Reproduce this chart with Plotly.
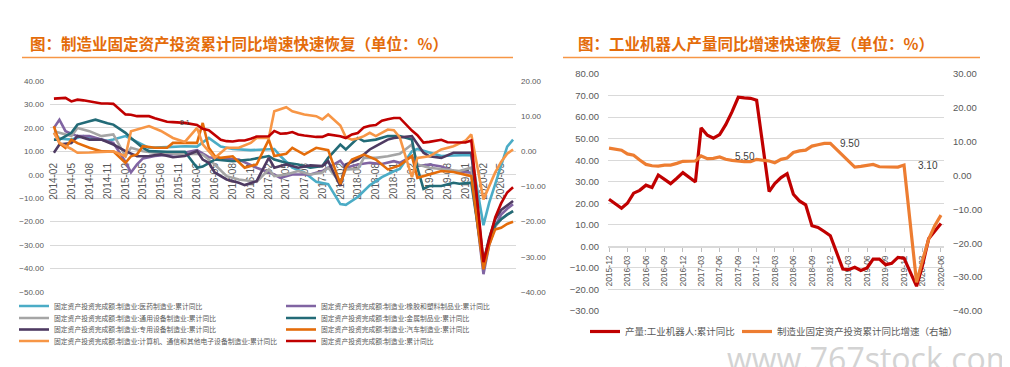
import plotly.graph_objects as go

W, H = 1010, 367


def px_x(p):
    return p / W


def px_y(p):
    return 1 - p / H


# ---------------- data : left chart (monthly cumulative YoY, %) ----------------
pharma_m = ["2014-02", "2014-03", "2014-05", "2014-07", "2014-09", "2014-11", "2014-12", "2015-02", "2015-04",
            "2015-06", "2015-09", "2015-12", "2016-02", "2016-04", "2016-06", "2016-08", "2016-11", "2017-02",
            "2017-03", "2017-04", "2017-06", "2017-08", "2017-10", "2017-12", "2018-02", "2018-03", "2018-05",
            "2018-07", "2018-09", "2018-11", "2018-12", "2019-02", "2019-03", "2019-05", "2019-07", "2019-09",
            "2019-12", "2020-02", "2020-03", "2020-04", "2020-05", "2020-06", "2020-07"]
pharma_v = [18.0, 15.5, 15.0, 16.5, 15.5, 14.5, 15.0, 16.5, 14.0, 11.5, 11.8, 12.2, 12.0, 15.7, 12.0, 11.0, 10.5,
            10.8, 11.0, 8.0, 3.0, 1.0, -3.0, -4.0, -12.5, -12.8, -9.5, -4.5, -1.0, 1.5, 2.5, 10.0, 11.0, 9.5, 8.0,
            8.2, 8.5, -21.5, -12.0, -4.0, 4.0, 12.0, 15.0]

rubber_m = ["2014-02", "2014-03", "2014-04", "2014-06", "2014-08", "2014-10", "2014-12", "2015-02", "2015-03",
            "2015-04", "2015-05", "2015-07", "2015-09", "2015-11", "2016-02", "2016-04", "2016-06", "2016-09",
            "2016-12", "2017-02", "2017-03", "2017-04", "2017-06", "2017-09", "2017-11", "2017-12", "2018-02",
            "2018-03", "2018-05", "2018-07", "2018-09", "2018-11", "2018-12", "2019-02", "2019-03", "2019-05",
            "2019-07", "2019-09", "2019-12", "2020-02", "2020-03", "2020-04", "2020-05", "2020-06", "2020-07"]
rubber_v = [20.0, 23.5, 18.6, 16.5, 16.5, 15.0, 13.6, 5.5, 1.0, 4.4, 7.0, 8.0, 8.5, 9.0, 10.5, 7.5, 6.8, 6.5, 3.0,
            1.0, 0.1, -1.3, 0.1, 0.1, 1.6, 3.0, 6.0, 3.0, 4.4, 5.1, 4.6, 5.8, 5.1, 7.9, 3.7, 4.4, 3.5, 1.6, 0.9,
            -42.4, -30.0, -22.0, -17.0, -14.5, -12.6]

general_m = ["2014-02", "2014-03", "2014-05", "2014-06", "2014-08", "2014-10", "2014-12", "2015-02", "2015-03",
             "2015-05", "2015-07", "2015-09", "2015-11", "2016-02", "2016-03", "2016-05", "2016-07", "2016-09",
             "2016-11", "2016-12", "2017-02", "2017-03", "2017-05", "2017-07", "2017-09", "2017-11", "2017-12",
             "2018-02", "2018-03", "2018-05", "2018-06", "2018-08", "2018-10", "2018-12", "2019-02", "2019-03",
             "2019-05", "2019-08", "2019-10", "2019-12", "2020-02", "2020-03", "2020-04", "2020-05", "2020-06",
             "2020-07"]
general_v = [18.6, 17.9, 16.5, 20.0, 18.6, 16.5, 17.2, 7.9, 11.5, 10.0, 9.4, 9.4, 8.7, 9.0, 8.6, 4.4, -0.6, -2.0,
             -2.7, -3.0, 2.3, -0.6, 0.1, 1.6, 0.1, 1.0, 3.0, -3.4, 2.3, 2.5, 7.2, 7.2, 7.9, 9.0, 12.9, 4.4, 3.0, 2.3,
             1.6, 3.0, -38.0, -28.0, -22.0, -19.0, -17.0, -15.5]

metal_m = ["2014-02", "2014-03", "2014-05", "2014-06", "2014-08", "2014-09", "2014-11", "2014-12", "2015-02",
           "2015-03", "2015-05", "2015-06", "2015-09", "2015-12", "2016-02", "2016-03", "2016-04", "2016-05",
           "2016-08", "2016-11", "2017-02", "2017-03", "2017-05", "2017-07", "2017-09", "2017-11", "2017-12",
           "2018-02", "2018-03", "2018-05", "2018-06", "2018-08", "2018-10", "2018-12", "2019-02", "2019-03",
           "2019-04", "2019-05", "2019-07", "2019-09", "2019-10", "2019-12", "2020-02", "2020-03", "2020-04",
           "2020-05", "2020-06", "2020-07"]
metal_v = [15.0, 15.0, 17.9, 21.4, 22.8, 23.5, 22.0, 21.4, 17.9, 15.7, 11.5, 10.1, 9.8, 9.8, 3.0, 3.5, 5.0, 6.5,
           5.8, 6.5, 8.0, 6.5, 5.1, 4.4, 3.0, 3.7, 7.2, 12.9, 10.8, 15.7, 14.3, 15.0, 16.5, 16.5, 15.0, 3.0, -6.0,
           -4.8, -4.8, -3.4, -3.8, -3.4, -38.0, -28.0, -21.5, -19.0, -17.0, -15.5]

special_m = ["2014-02", "2014-03", "2014-05", "2014-06", "2014-08", "2014-10", "2014-12", "2015-02", "2015-04",
             "2015-06", "2015-08", "2015-10", "2015-12", "2016-02", "2016-03", "2016-04", "2016-05", "2016-07",
             "2016-09", "2016-10", "2016-12", "2017-02", "2017-03", "2017-05", "2017-07", "2017-09", "2017-11",
             "2017-12", "2018-02", "2018-03", "2018-05", "2018-07", "2018-08", "2018-10", "2018-11", "2019-02",
             "2019-04", "2019-05", "2019-07", "2019-09", "2019-12", "2020-02", "2020-03", "2020-04", "2020-05",
             "2020-06", "2020-07"]
special_v = [9.4, 12.9, 13.5, 16.5, 15.0, 15.0, 12.9, 10.1, 7.9, 8.0, 8.7, 7.5, 8.0, 10.1, 6.5, 5.1, 1.0, -2.0,
             -3.4, -4.4, -2.7, 7.2, 3.0, 4.4, 3.0, 4.0, 3.7, 5.8, -4.8, 4.4, 6.5, 10.8, 12.2, 15.0, 15.7, 16.5, 9.4,
             7.9, 7.2, 9.4, 9.4, -37.4, -27.0, -19.0, -15.0, -13.0, -11.2]

auto_m = ["2014-02", "2014-03", "2014-04", "2014-05", "2014-06", "2014-08", "2014-10", "2014-12", "2015-02",
          "2015-03", "2015-04", "2015-05", "2015-07", "2015-09", "2015-10", "2015-12", "2016-02", "2016-03",
          "2016-04", "2016-05", "2016-06", "2016-08", "2016-10", "2016-11", "2016-12", "2017-02", "2017-03",
          "2017-05", "2017-06", "2017-08", "2017-10", "2017-12", "2018-02", "2018-03", "2018-04", "2018-06",
          "2018-08", "2018-10", "2018-12", "2019-02", "2019-03", "2019-05", "2019-07", "2019-09", "2019-11",
          "2019-12", "2020-02", "2020-03", "2020-04", "2020-05", "2020-06", "2020-07"]
auto_v = [20.7, 13.5, 11.5, 15.0, 13.5, 11.5, 10.0, 10.0, 5.1, 7.9, 8.7, 12.2, 11.5, 11.5, 13.6, 13.6, 13.6, 22.1,
          11.5, 8.0, 7.2, 7.9, 3.0, 3.7, 4.4, 15.0, 8.0, 9.0, 11.5, 8.6, 11.5, 10.5, -4.0, 3.0, 6.5, 8.6, 6.5, 2.3,
          4.0, 8.0, -1.3, 0.1, 1.6, 1.2, 0.1, -0.6, -40.3, -30.0, -23.3, -22.6, -21.0, -20.0]

computer_m = ["2014-02", "2014-03", "2014-05", "2014-06", "2014-08", "2014-10", "2014-12", "2015-02", "2015-03",
              "2015-06", "2015-08", "2015-10", "2015-12", "2016-02", "2016-03", "2016-05", "2016-07", "2016-09",
              "2016-11", "2016-12", "2017-02", "2017-03", "2017-05", "2017-06", "2017-08", "2017-10", "2017-11",
              "2017-12", "2018-02", "2018-03", "2018-04", "2018-05", "2018-06", "2018-07", "2018-08", "2018-10",
              "2018-11", "2018-12", "2019-02", "2019-03", "2019-05", "2019-07", "2019-09", "2019-11", "2019-12",
              "2020-02", "2020-03", "2020-04", "2020-05", "2020-06", "2020-07"]
computer_v = [17.9, 13.6, 11.0, 9.4, 9.5, 9.8, 10.0, 7.9, 18.6, 20.8, 18.7, 15.7, 14.0, 20.0, 13.0, 7.2, 11.5,
              11.5, 13.6, 15.7, 15.7, 27.1, 28.8, 27.1, 25.7, 25.0, 23.6, 25.7, 21.0, 16.0, 15.0, 15.5, 16.5, 17.9,
              16.5, 19.3, 19.0, 16.0, -1.0, 7.2, 7.9, 10.8, 12.2, 14.5, 17.2, -10.5, -5.0, 1.0, 5.5, 9.0, 10.8]

# manufacturing FAI cumulative YoY (right axis on the left chart, right axis on the right chart)
mfg_m = [f"{y}-{m:02d}" for y in range(2014, 2020) for m in range(2, 13)] + \
        ["2020-02", "2020-03", "2020-04", "2020-05", "2020-06", "2020-07"]
mfg_v = [15.0, 15.1, 15.2, 14.2, 14.7, 14.5, 14.2, 13.9, 13.6, 13.6, 13.5,
         10.5, 10.4, 10.0, 10.0, 10.0, 9.4, 9.0, 8.4, 8.3, 8.3, 8.1,
         7.5, 6.4, 6.0, 4.6, 3.3, 2.9, 2.8, 3.1, 3.1, 3.6, 4.2,
         4.3, 5.8, 5.0, 5.1, 5.5, 4.8, 4.5, 4.2, 4.1, 4.1, 4.8,
         4.3, 3.8, 4.8, 5.2, 6.8, 7.3, 7.5, 8.7, 9.1, 9.5, 9.5,
         5.9, 4.6, 2.5, 2.7, 3.0, 3.3, 2.6, 2.5, 2.6, 2.5, 3.1,
         -31.5, -25.2, -18.8, -14.8, -11.7, -10.2]

# ---------------- data : right chart ----------------
robot_m = ["2015-12", "2016-02", "2016-03", "2016-04", "2016-05", "2016-06", "2016-07", "2016-08", "2016-09",
           "2016-10", "2016-11", "2016-12", "2017-02", "2017-03", "2017-04", "2017-05", "2017-06", "2017-07",
           "2017-08", "2017-09", "2017-10", "2017-11", "2017-12", "2018-02", "2018-03", "2018-04", "2018-05",
           "2018-06", "2018-07", "2018-08", "2018-09", "2018-10", "2018-11", "2018-12", "2019-02", "2019-03",
           "2019-04", "2019-05", "2019-06", "2019-07", "2019-08", "2019-09", "2019-10", "2019-11", "2019-12",
           "2020-02", "2020-03", "2020-04", "2020-05", "2020-06"]
robot_v = [21.9, 17.7, 20.0, 24.7, 26.0, 28.4, 27.3, 33.1, 31.1, 29.1, 31.6, 34.2, 29.9, 55.0, 51.6, 50.2, 51.9,
           56.5, 62.4, 69.2, 68.9, 68.7, 67.8, 25.4, 29.1, 31.9, 33.7, 24.2, 21.1, 19.3, 9.6, 8.8, 6.9, 4.9, -10.5,
           -10.8, -9.7, -11.2, -10.0, -5.9, -5.9, -8.5, -7.9, -5.1, -5.5, -18.5, -9.0, 3.5, 7.0, 10.6]

right_start, right_end = "2015-12", "2020-06"
labelled_months = ["2017-06", "2018-12", "2019-12"]

left_names = [
    "固定资产投资完成额:制造业:医药制造业:累计同比",
    "固定资产投资完成额:制造业:橡胶和塑料制品业:累计同比",
    "固定资产投资完成额:制造业:通用设备制造业:累计同比",
    "固定资产投资完成额:制造业:金属制品业:累计同比",
    "固定资产投资完成额:制造业:专用设备制造业:累计同比",
    "固定资产投资完成额:制造业:汽车制造业:累计同比",
    "固定资产投资完成额:制造业:计算机、通信和其他电子设备制造业:累计同比",
    "固定资产投资完成额:制造业:累计同比",
]
right_names = ["产量:工业机器人:累计同比", "制造业固定资产投资累计同比增速（右轴）"]

# ---------------- styles ----------------
left_colors = ["#4BACC6", "#8064A2", "#A5A5A5", "#236B77", "#4E3A62", "#E46C0A", "#F79646", "#C00000"]
TXT = "#595959"
NUMFONT = "Liberation Sans"
CJK = "Noto Sans CJK SC"

fig = go.Figure()

left_data = [(pharma_m, pharma_v), (rubber_m, rubber_v), (general_m, general_v), (metal_m, metal_v),
             (special_m, special_v), (auto_m, auto_v), (computer_m, computer_v), (mfg_m, mfg_v)]
legend_ids = ["legend", "legend", "legend2", "legend2", "legend3", "legend3", "legend4", "legend4"]

for i, ((mm, vv), name, col, lg) in enumerate(zip(left_data, left_names, left_colors, legend_ids)):
    fig.add_trace(go.Scatter(
        x=mm, y=vv, name=name, mode="lines",
        line=dict(color=col, width=2.6),
        xaxis="x", yaxis="y2" if i == 7 else "y", legend=lg,
        legendwidth=222 if i % 2 == 0 else 200,
    ))

# right chart
i0, i1 = mfg_m.index(right_start), mfg_m.index(right_end)
r_m, r_v = mfg_m[i0:i1 + 1], mfg_v[i0:i1 + 1]
fig.add_trace(go.Scatter(x=robot_m, y=robot_v, name=right_names[0], mode="lines",
                         line=dict(color="#C00000", width=3.2), xaxis="x2", yaxis="y3", legend="legend5",
                         legendwidth=107))
fig.add_trace(go.Scatter(x=r_m, y=r_v, name=right_names[1], mode="lines",
                         line=dict(color="#ED7D31", width=3.2), xaxis="x2", yaxis="y4", legend="legend5",
                         legendwidth=185))

# ---------------- layout ----------------
xcommon = dict(type="date", anchor="free", tickmode="linear", dtick="M3", tickformat="%Y-%m",
               tickangle=-90, showgrid=False, zeroline=False, layer="below traces", automargin=False)
ycommon = dict(tickformat=".2f", dtick=10, tick0=0, zeroline=False, showline=False, automargin=False)
f_left = dict(family=NUMFONT, size=8, color=TXT)
f_right = dict(family=NUMFONT, size=9.5, color=TXT)

fig.update_layout(
    width=W, height=H, margin=dict(l=0, r=0, t=0, b=0, autoexpand=False),
    paper_bgcolor="white", plot_bgcolor="white",
    showlegend=True,
    xaxis=dict(domain=[px_x(42), px_x(508)], range=["2014-01-12", "2020-07-16"], tick0="2014-02-01",
               position=px_y(152), showline=False, ticks="",
               tickfont=dict(family=NUMFONT, size=10, color=TXT), **xcommon),
    yaxis=dict(domain=[px_y(284), px_y(73)], range=[-50, 40], anchor="x", showgrid=True,
               gridcolor="#D9D9D9", gridwidth=1, tickfont=f_left, ticklabelstandoff=5, **ycommon),
    yaxis2=dict(domain=[px_y(284), px_y(73)], range=[-40, 20], anchor="x", overlaying="y", side="right",
                showgrid=False, tickfont=f_left, ticklabelstandoff=4, **ycommon),
    xaxis2=dict(domain=[px_x(600), px_x(936)], range=["2015-11-26", "2020-06-16"], tick0="2015-12-01",
                position=px_y(239), showline=True, linecolor="#D9D9D9", ticks="outside", ticklen=4,
                tickcolor="#BFBFBF", tickfont=dict(family=NUMFONT, size=8.5, color=TXT), **xcommon),
    yaxis3=dict(domain=[px_y(303), px_y(66)], range=[-30, 80], anchor="x2", showgrid=True,
                gridcolor="#D9D9D9", gridwidth=1, tickfont=f_right, ticklabelstandoff=8, **ycommon),
    yaxis4=dict(domain=[px_y(303), px_y(66)], range=[-40, 30], anchor="x2", overlaying="y3", side="right",
                showgrid=False, tickfont=f_right, ticklabelstandoff=8, **ycommon),
)

leg_common = dict(orientation="h", xanchor="left", yanchor="middle", bgcolor="rgba(0,0,0,0)",
                  entrywidthmode="pixels", itemwidth=30, traceorder="normal")
row_y = [298, 310, 321.5, 333]
for k, ry in enumerate(row_y):
    key = "legend" if k == 0 else f"legend{k + 1}"
    fig.update_layout({key: dict(x=px_x(6), y=px_y(ry),
                                 font=dict(family=CJK, size=6.8, color=TXT), **leg_common)})
fig.update_layout(legend5=dict(x=px_x(577), y=px_y(323.5),
                               font=dict(family=CJK, size=9.5, color=TXT), **leg_common))

# titles and underlines
TITLE_C = "#E46C0A"
fig.add_annotation(text="<b>图：制造业固定资产投资累计同比增速快速恢复（单位：%）</b>", xref="paper", yref="paper",
                   x=px_x(20), y=px_y(35), xanchor="left", yanchor="middle", showarrow=False,
                   font=dict(family=CJK, size=15.5, color=TITLE_C))
fig.add_annotation(text="<b>图：工业机器人产量同比增速快速恢复（单位：%）</b>", xref="paper", yref="paper",
                   x=px_x(568), y=px_y(35), xanchor="left", yanchor="middle", showarrow=False,
                   font=dict(family=CJK, size=15.5, color=TITLE_C))
for x0, x1 in [(14, 505), (555, 972)]:
    fig.add_shape(type="line", xref="paper", yref="paper", x0=px_x(x0), x1=px_x(x1), y0=px_y(49.5),
                  y1=px_y(49.5), line=dict(color="#F79646", width=1.5))

# data labels on the right chart (manufacturing FAI series)
for mo, dx in zip(labelled_months, [13, 8, 12]):
    val = r_v[r_m.index(mo)]
    fig.add_annotation(text=f"{val:.2f}", x=mo, y=val, xref="x2", yref="y4", xanchor="left",
                       yanchor="middle", xshift=dx, showarrow=False,
                       font=dict(family=NUMFONT, size=10, color="#404040"))

# small data label on the left chart
fig.add_annotation(text=f"{mfg_v[mfg_m.index('2015-12')]:.1f}", x="2015-12", y=mfg_v[mfg_m.index('2015-12')],
                   xref="x", yref="y2", xanchor="center", yanchor="middle", showarrow=False,
                   font=dict(family=NUMFONT, size=7, color="#404040"))

# source lines (cut by the bottom edge, as in the original) and watermark
for xs in [20, 582]:
    fig.add_annotation(text="<b>资料来源：Wind，国开证券研究部</b>", xref="paper", yref="paper", x=px_x(xs),
                       y=px_y(359), xanchor="left", yanchor="top", showarrow=False,
                       font=dict(family=CJK, size=12, color=TITLE_C))
fig.add_annotation(text="www.767stock.com", xref="paper", yref="paper", x=px_x(1009), y=px_y(350),
                   xanchor="right", yanchor="middle", showarrow=False,
                   font=dict(family="Open Sans", size=32, color="#D3D3D3"))

fig.write_html("out.html")
